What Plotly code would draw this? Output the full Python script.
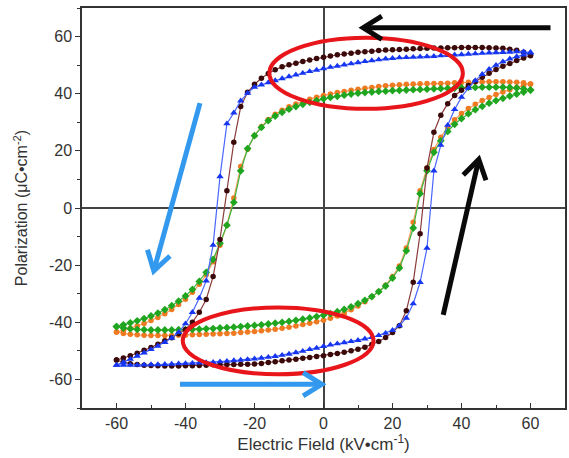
import math
import plotly.graph_objects as go

# Electric field sampling (kV/cm)
E_down = list(range(60, -61, -2))   # descending branch: +60 -> -60
E_up = list(range(-60, 61, 2))      # ascending branch: -60 -> +60

# ---- Blue (triangles) ----
blue_down = [54.5, 54.7, 54.7, 54.6, 54.5, 54.4, 54.3, 54.2, 54.0, 53.9,
             53.7, 53.6, 53.4, 53.3, 53.1, 53.0, 52.9, 52.8, 52.7, 52.6,
             52.4, 52.2, 51.9, 51.6, 51.3, 50.9, 50.5, 50.1, 49.7, 49.3,
             48.8, 48.3, 47.8, 47.2, 46.6, 46.0, 45.3, 44.6, 43.9, 43.1,
             42.3, 40.2, 37.5, 33.3, 29.5, 11.0, -13.0, -25.5, -31.5, -36.5,
             -40.5, -43.5, -45.5, -47.0, -48.3, -49.5, -50.7, -51.8, -52.9, -54.0,
             -55.0]
blue_up = [-55.0, -55.0, -55.0, -55.0, -54.9, -54.8, -54.8, -54.7, -54.6, -54.5,
           -54.4, -54.3, -54.2, -54.1, -54.0, -53.8, -53.6, -53.4, -53.2, -53.0,
           -52.8, -52.5, -52.2, -51.9, -51.5, -51.1, -50.6, -50.1, -49.5, -49.0,
           -48.4, -47.9, -47.5, -47.1, -46.7, -46.3, -45.8, -45.3, -44.6, -43.8,
           -42.8, -41.2, -38.5, -33.5, -26.0, -14.0, 13.0, 22.0, 29.0, 34.5,
           38.8, 42.0, 44.6, 46.8, 48.6, 50.0, 51.2, 52.2, 53.0, 53.6,
           54.3]

# ---- Brown (circles) ----
brown_down = [53.5, 54.5, 55.2, 55.6, 55.9, 56.0, 56.1, 56.2, 56.2, 56.2,
              56.2, 56.1, 56.1, 56.0, 56.0, 55.9, 55.8, 55.7, 55.6, 55.5,
              55.4, 55.3, 55.1, 54.9, 54.7, 54.5, 54.2, 53.9, 53.6, 53.2,
              52.8, 52.3, 51.8, 51.3, 50.7, 50.1, 49.4, 48.4, 47.1, 45.4,
              43.3, 40.5, 35.5, 23.0, 6.0, -11.0, -24.0, -32.0, -36.5, -40.0,
              -42.5, -44.0, -45.4, -46.5, -47.7, -48.8, -49.8, -50.8, -51.7, -52.5,
              -53.2]
brown_up = [-53.2, -54.0, -54.5, -54.8, -55.0, -55.1, -55.2, -55.3, -55.3, -55.3,
            -55.2, -55.2, -55.1, -55.0, -54.9, -54.9, -54.8, -54.8, -54.7, -54.7,
            -54.6, -54.4, -54.1, -53.8, -53.5, -53.2, -52.9, -52.6, -52.3, -52.0,
            -51.7, -51.3, -50.9, -50.5, -50.0, -49.4, -48.7, -47.8, -46.7, -45.3,
            -43.6, -41.2, -36.0, -26.0, -9.0, 14.0, 26.5, 32.5, 36.5, 39.4,
            41.2, 42.9, 44.3, 45.8, 47.2, 48.5, 49.6, 50.6, 51.6, 52.5,
            53.3]

# ---- Orange (circles) ----
orange_down = [43.4, 43.8, 44.0, 44.1, 44.2, 44.2, 44.2, 44.1, 44.1, 44.0,
               43.9, 43.8, 43.7, 43.6, 43.6, 43.6, 43.5, 43.4, 43.3, 43.1,
               43.0, 42.8, 42.5, 42.2, 41.9, 41.6, 41.2, 40.8, 40.4, 39.9,
               39.4, 38.8, 38.1, 37.3, 36.4, 35.4, 34.2, 32.8, 31.0, 28.5,
               25.4, 20.6, 14.5, 3.5, -6.0, -13.0, -18.8, -23.4, -26.7, -29.5,
               -31.9, -33.8, -35.5, -37.0, -38.3, -39.4, -40.4, -41.3, -42.1, -42.8,
               -43.4]
orange_up = [-43.4, -43.9, -44.2, -44.4, -44.5, -44.6, -44.6, -44.6, -44.6, -44.5,
             -44.5, -44.4, -44.3, -44.2, -44.1, -44.0, -43.9, -43.8, -43.6, -43.4,
             -43.2, -43.0, -42.7, -42.4, -42.1, -41.7, -41.3, -40.8, -40.3, -39.8,
             -39.3, -38.6, -37.8, -36.8, -35.6, -34.3, -32.8, -31.1, -29.2, -27.0,
             -24.0, -20.3, -14.0, -5.0, 6.0, 14.0, 20.5, 24.8, 28.2, 30.9,
             33.1, 34.8, 36.3, 37.6, 38.7, 39.7, 40.6, 41.4, 42.2, 42.9,
             43.4]

# ---- Green (diamonds) ----
green_down = [41.3, 41.7, 42.0, 42.2, 42.3, 42.3, 42.3, 42.3, 42.2, 42.2,
              42.1, 42.0, 41.9, 41.8, 41.7, 41.6, 41.5, 41.4, 41.3, 41.2,
              41.1, 40.9, 40.8, 40.6, 40.4, 40.2, 39.9, 39.5, 39.1, 38.7,
              38.2, 37.6, 37.0, 36.3, 35.5, 34.6, 33.5, 32.2, 30.6, 28.2,
              25.3, 20.8, 13.0, 2.0, -6.0, -12.3, -18.0, -22.5, -25.7, -28.5,
              -30.8, -32.6, -34.2, -35.6, -36.8, -37.8, -38.7, -39.5, -40.2, -40.9,
              -41.5]
green_up = [-41.5, -42.0, -42.3, -42.5, -42.6, -42.7, -42.7, -42.7, -42.7, -42.6,
            -42.6, -42.5, -42.4, -42.3, -42.2, -42.0, -41.9, -41.7, -41.5, -41.3,
            -41.1, -40.9, -40.6, -40.3, -40.0, -39.7, -39.3, -38.9, -38.5, -38.0,
            -37.5, -37.0, -36.3, -35.5, -34.6, -33.5, -32.3, -31.0, -29.3, -27.3,
            -24.5, -21.0, -15.0, -7.0, 5.0, 13.0, 19.5, 23.5, 26.8, 29.3,
            31.3, 33.0, 34.4, 35.6, 36.7, 37.6, 38.4, 39.2, 39.9, 40.6,
            41.3]

x_ticks = [-60, -40, -20, 0, 20, 40, 60]
x_tick_text = ["-60", "-40", "-20", "0", "20", "40", "60"]
y_ticks = [-60, -40, -20, 0, 20, 40, 60]
y_tick_text = ["-60", "-40", "-20", "0", "20", "40", "60"]

W, H = 569, 458
ML, MR, MT, MB = 82, 4, 8, 50
XR = [-70, 70]
YR = [-70, 70]
sx = (W - ML - MR) / (XR[1] - XR[0])   # px per data unit (x)
sy = (H - MT - MB) / (YR[1] - YR[0])   # px per data unit (y)

fig = go.Figure()

def loop(down, up, line_color, marker_color, symbol, size):
    fig.add_trace(go.Scatter(
        x=E_down + E_up, y=down + up, mode="lines+markers",
        line=dict(color=line_color, width=1.2),
        marker=dict(color=marker_color, symbol=symbol, size=size, line=dict(width=0)),
        showlegend=False, hoverinfo="skip"))

loop(orange_down, orange_up, "#f5a060", "#f07a22", "circle", 5.5)
loop(green_down, green_up, "#3cb43c", "#1fa51f", "diamond", 6)
loop(brown_down, brown_up, "#8a3a3a", "#3a0a0a", "circle", 5.5)
loop(blue_down, blue_up, "#4a66ff", "#1535f0", "triangle-up", 6.5)

red = "#e8151b"
fig.add_shape(type="circle", xref="x", yref="y", x0=-15.7, x1=40.4, y0=34.7, y1=59.6,
              line=dict(color=red, width=4))
fig.add_shape(type="circle", xref="x", yref="y", x0=-40.8, x1=14.5, y0=-58.2, y1=-34.8,
              line=dict(color=red, width=4))

def arrow(x0, y0, x1, y1, color, head=22, ang=32):
    # shaft
    fig.add_shape(type="line", xref="x", yref="y", x0=x0, y0=y0, x1=x1, y1=y1,
                  line=dict(color=color, width=5))
    # chevron head, built in pixel space then mapped back to data units
    dxp = (x0 - x1) * sx
    dyp = (y0 - y1) * sy
    L = math.hypot(dxp, dyp)
    ux, uy = dxp / L, dyp / L
    pts = []
    for s in (1, -1):
        a = math.radians(ang) * s
        rx = ux * math.cos(a) - uy * math.sin(a)
        ry = ux * math.sin(a) + uy * math.cos(a)
        pts.append((x1 + rx * head / sx, y1 + ry * head / sy))
    path = "M{:.3f},{:.3f} L{:.3f},{:.3f} L{:.3f},{:.3f}".format(
        pts[0][0], pts[0][1], x1, y1, pts[1][0], pts[1][1])
    fig.add_shape(type="path", xref="x", yref="y", path=path,
                  line=dict(color=color, width=5))

arrow(65.8, 63.1, 11.5, 63.1, "#0a0a0a")
arrow(34.7, -37.4, 45.0, 17.0, "#0a0a0a")
arrow(-35.8, 36.7, -49.2, -22.0, "#3399ee")
arrow(-41.6, -61.7, -0.5, -61.7, "#3399ee")

font = dict(family="Arial, Liberation Sans, sans-serif", size=16, color="#333333")

fig.update_layout(
    width=W, height=H,
    margin=dict(l=ML, r=MR, t=MT, b=MB),
    paper_bgcolor="white", plot_bgcolor="white",
    font=font,
    xaxis=dict(range=XR, tickvals=x_ticks, ticktext=x_tick_text, ticks="inside", ticklen=5,
               tickcolor="#333", showgrid=False, showline=True, linecolor="#333",
               linewidth=1.5, mirror=True, zeroline=True, zerolinecolor="#444",
               zerolinewidth=1.5, automargin=False, tickfont=dict(size=16),
               minor=dict(dtick=10, tick0=-70, ticks="inside", ticklen=3, tickcolor="#333"),
               title=dict(text="Electric Field (kV•cm<sup>-1</sup>)", standoff=2,
                          font=dict(size=17))),
    yaxis=dict(range=YR, tickvals=y_ticks, ticktext=y_tick_text, ticks="outside", ticklen=5,
               tickcolor="#333", showgrid=False, showline=True, linecolor="#333",
               linewidth=1.5, mirror=True, zeroline=True, zerolinecolor="#444",
               zerolinewidth=1.5, automargin=False, tickfont=dict(size=16),
               minor=dict(dtick=10, tick0=-70, ticks="outside", ticklen=3, tickcolor="#333"),
               title=dict(text="Polarization (μC•cm<sup>-2</sup>)", standoff=17,
                          font=dict(size=16))),
)

fig.write_html("out.html", config={"displayModeBar": False},
               post_script="document.body.style.margin='0px';")
